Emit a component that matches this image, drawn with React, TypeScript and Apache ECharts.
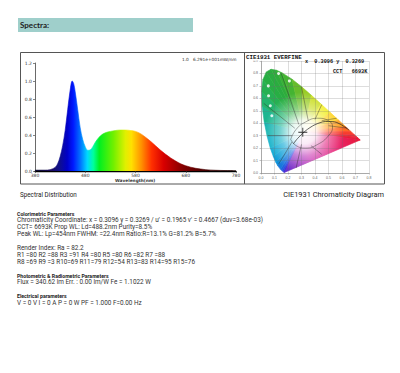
import React, { useEffect, useRef } from "react";
import * as echarts from "echarts";

// ---------- Spectrum data ----------
const wavelengths = [380, 390, 400, 410, 420, 425, 430, 435, 440, 445, 450, 454, 457, 460, 465, 470, 475, 480, 485, 490, 495, 500, 510, 520, 530, 540, 550, 560, 570, 580, 590, 600, 610, 620, 630, 640, 650, 660, 670, 680, 690, 700, 720, 740, 760, 780];
const intensity = [0.01, 0.01, 0.01, 0.015, 0.04, 0.08, 0.16, 0.28, 0.45, 0.68, 0.9, 1.0, 0.97, 0.88, 0.68, 0.48, 0.35, 0.27, 0.23, 0.235, 0.27, 0.32, 0.39, 0.425, 0.44, 0.45, 0.455, 0.455, 0.45, 0.44, 0.415, 0.375, 0.33, 0.28, 0.23, 0.185, 0.145, 0.11, 0.08, 0.058, 0.042, 0.03, 0.015, 0.008, 0.005, 0.003];
const xTickMin = 380;
const xTickMax = 780;
const xTickStep = 100;
const yTickMax = 1.2;
const yTickStep = 0.2;

// ---------- CIE 1931 spectral locus ----------
const locusWl = [380, 420, 440, 450, 460, 470, 475, 480, 485, 490, 495, 500, 505, 510, 515, 520, 525, 530, 540, 550, 560, 570, 580, 590, 600, 610, 620, 630, 640, 660, 700];
const locusX = [0.1741, 0.1714, 0.1644, 0.1566, 0.144, 0.1241, 0.1096, 0.0913, 0.0687, 0.0454, 0.0235, 0.0082, 0.0039, 0.0139, 0.0389, 0.0743, 0.1142, 0.1547, 0.2296, 0.3016, 0.3731, 0.4441, 0.5125, 0.5752, 0.627, 0.6658, 0.6915, 0.7079, 0.719, 0.73, 0.7347];
const locusY = [0.005, 0.0051, 0.0109, 0.0177, 0.0297, 0.0578, 0.0868, 0.1327, 0.2007, 0.295, 0.4127, 0.5384, 0.6548, 0.7502, 0.812, 0.8338, 0.8262, 0.8059, 0.7543, 0.6923, 0.6245, 0.5547, 0.4866, 0.4242, 0.3725, 0.334, 0.3083, 0.292, 0.2809, 0.27, 0.2653];
const planckX = [0.6528, 0.5857, 0.5267, 0.477, 0.4369, 0.4053, 0.3805, 0.3451, 0.3221, 0.3064, 0.2952, 0.2807, 0.2637, 0.2399];
const planckY = [0.3444, 0.3931, 0.4133, 0.4137, 0.4041, 0.3907, 0.3768, 0.3516, 0.3318, 0.3166, 0.3048, 0.2884, 0.2683, 0.2342];
const whitePoint = [0.32, 0.33];
const measured = [0.3096, 0.3269];
const ovalX = [0.22, 0.26, 0.33, 0.42, 0.5, 0.53, 0.5, 0.42, 0.33, 0.26, 0.22];
const ovalY = [0.27, 0.22, 0.2, 0.23, 0.3, 0.37, 0.42, 0.44, 0.41, 0.35, 0.27];
const boundaries = [
  [0.28, 0.39, 0.15, 0.8],
  [0.35, 0.42, 0.3, 0.69],
  [0.4, 0.43, 0.45, 0.55],
  [0.45, 0.42, 0.56, 0.44],
  [0.5, 0.38, 0.64, 0.36],
  [0.3, 0.23, 0.26, 0.04],
  [0.37, 0.22, 0.45, 0.15],
  [0.23, 0.3, 0.05, 0.3],
  [0.23, 0.25, 0.13, 0.07],
  [0.25, 0.36, 0.02, 0.56],
];
const markerX = [0.054, 0.056, 0.069, 0.08, 0.13, 0.21];
const markerY = [0.7, 0.62, 0.54, 0.46, 0.8, 0.74];

// ---------- Texts ----------
const headerTitle = "Spectra:";
const spectrumNote = "1.0   6.291e+001mW/nm";
const spectrumAxisName = "Wavelength(nm)";
const cieTitle = "CIE1931 EVERFINE";
const cieXY = "x  0.3096 y  0.3269";
const cieCCT = "CCT   6693K";
const captionLeft = "Spectral Distribution";
const captionRight = "CIE1931 Chromaticity Diagram";
const paramLines: [string, boolean][] = [
  ["Colorimetric Parameters", true],
  ["Chromaticity Coordinate: x = 0.3096 y = 0.3269 / u' = 0.1965 v' = 0.4667 (duv=3.68e-03)", false],
  ["CCT= 6693K Prop WL: Ld=488.2nm Purity=8.5%", false],
  ["Peak WL: Lp=454nm FWHM: =22.4nm Ratio:R=13.1% G=81.2% B=5.7%", false],
  ["", false],
  ["Render Index: Ra = 82.2", false],
  ["R1 =80 R2 =88 R3 =91 R4 =80 R5 =80 R6 =82 R7 =88", false],
  ["R8 =69 R9 =3 R10=69 R11=79 R12=54 R13=83 R14=95 R15=76", false],
  ["", false],
  ["Photometric & Radiometric Parameters", true],
  ["Flux = 340.62 lm Err. : 0.00 lm/W Fe = 1.1022 W", false],
  ["", false],
  ["Electrical parameters", true],
  ["V = 0 V I = 0 A P = 0 W PF = 1.000 F=0.00 Hz", false],
];

// ---------- Styles ----------
const spectrumStops = [
  [0, "#101030"], [0.08, "#1a0a60"], [0.12, "#10108a"], [0.16, "#0000c8"], [0.19, "#0018ff"],
  [0.225, "#0070ff"], [0.26, "#00d8ff"], [0.29, "#00ffa0"], [0.32, "#00f020"], [0.39, "#70f000"],
  [0.45, "#e0f000"], [0.48, "#ffe000"], [0.53, "#ff9000"], [0.58, "#ff3000"], [0.64, "#d80000"],
  [0.74, "#800000"], [0.86, "#400000"], [1, "#200000"],
];
const locusColors = ["#4a28c8", "#3a30d8", "#2f44e0", "#2060e0", "#1878dc", "#108ed8", "#0a9ed8", "#08a8d4", "#10b0c8", "#16b4b0", "#1cb690", "#22b46c", "#26b052", "#28ae44", "#2aac40", "#2eac3c", "#38b036", "#44b432", "#66bc2c", "#98cc24", "#c8dc18", "#f0ec10", "#ffd010", "#ff9c18", "#ff6a24", "#f8402c", "#f02c34", "#ec2236", "#ea1c36", "#e81836"];

export default function App() {
  const ref = useRef<HTMLDivElement>(null);
  useEffect(() => {
    const el = ref.current;
    if (!el) return;
    const chart = echarts.init(el, null, { renderer: "svg" });

    const spectrumData = wavelengths.map((w, i) => [w, intensity[i]]);
    const fanData = locusX.slice(0, -1).map((x, i) => [x, locusY[i], locusX[i + 1], locusY[i + 1], i]);
    const last = locusX.length - 1;

    const paramGraphics: any[] = [];
    let y = 214;
    paramLines.forEach(([t, bold]) => {
      if (t) {
        paramGraphics.push({
          type: "text",
          left: 17,
          top: y - (bold ? 3 : 3.7),
          style: { text: t, fontSize: bold ? 5.2 : 6.4, fontWeight: bold ? "bold" : "normal", fill: bold ? "#222" : "#333", fontFamily: "Roboto" },
        });
      }
      y += 6.9;
    });

    const option: any = {
      animation: false,
      backgroundColor: "#ffffff",
      grid: [
        { left: 35, top: 63, width: 201, height: 108 },
        { left: 261, top: 61, width: 108, height: 112 },
      ],
      xAxis: [
        {
          type: "value", gridIndex: 0, min: xTickMin, max: xTickMax, interval: xTickStep,
          axisLine: { lineStyle: { color: "#000", width: 1.3 } },
          axisTick: { length: 2, lineStyle: { color: "#333", width: 0.6 } },
          axisLabel: { fontSize: 4.5, color: "#333", margin: 2, fontFamily: "DejaVu Sans" },
          splitLine: { show: false },
        },
        {
          type: "value", gridIndex: 1, min: 0, max: 0.8, interval: 0.1, z: 5,
          axisLine: { lineStyle: { color: "#888", width: 0.6 } },
          axisTick: { length: 1.5, lineStyle: { color: "#888", width: 0.5 } },
          axisLabel: { fontSize: 3.5, color: "#666", margin: 3, formatter: (v: number) => v.toFixed(1) },
          splitLine: { show: true, lineStyle: { color: "rgba(110,110,110,0.4)", width: 0.6 } },
        },
      ],
      yAxis: [
        {
          type: "value", gridIndex: 0, min: 0, max: yTickMax, interval: yTickStep,
          axisLine: { show: true, lineStyle: { color: "#444", width: 0.8 } },
          axisTick: { show: true, length: 2, lineStyle: { color: "#333", width: 0.6 } },
          axisLabel: { fontSize: 4.5, color: "#333", margin: 3, fontFamily: "DejaVu Sans", formatter: (v: number) => v.toFixed(1) },
          splitLine: { show: false },
        },
        {
          type: "value", gridIndex: 1, min: 0, max: 0.9, interval: 0.1, z: 5,
          axisLine: { show: true, lineStyle: { color: "#888", width: 0.6 } },
          axisTick: { show: true, length: 1.5, lineStyle: { color: "#888", width: 0.5 } },
          axisLabel: { fontSize: 3.5, color: "#666", margin: 3, formatter: (v: number) => v.toFixed(1) },
          splitLine: { show: true, lineStyle: { color: "rgba(110,110,110,0.4)", width: 0.6 } },
        },
      ],
      series: [
        {
          type: "line", xAxisIndex: 0, yAxisIndex: 0, data: spectrumData, smooth: 0.35, symbol: "none",
          lineStyle: { width: 0.6, color: new echarts.graphic.LinearGradient(0, 0, 1, 0, spectrumStops.map(([o, c]) => ({ offset: o as number, color: c as string }))) },
          areaStyle: { opacity: 1, color: new echarts.graphic.LinearGradient(0, 0, 1, 0, spectrumStops.map(([o, c]) => ({ offset: o as number, color: c as string }))) },
          z: 2,
        },
        {
          type: "custom", xAxisIndex: 1, yAxisIndex: 1, data: fanData, encode: { x: [0, 2], y: [1, 3] }, z: 1,
          renderItem: (_p: any, api: any) => {
            const p1 = api.coord([api.value(0), api.value(1)]);
            const p2 = api.coord([api.value(2), api.value(3)]);
            const w = api.coord(whitePoint);
            const c = locusColors[api.value(4)] || "#e81836";
            return { type: "polygon", shape: { points: [w, p1, p2] }, style: { fill: c, stroke: c, lineWidth: 0.6 } };
          },
        },
        {
          type: "custom", xAxisIndex: 1, yAxisIndex: 1, data: [[locusX[last], locusY[last], locusX[0], locusY[0]]], encode: { x: [0, 2], y: [1, 3] }, z: 1,
          renderItem: (_p: any, api: any) => {
            const r = api.coord([api.value(0), api.value(1)]);
            const b = api.coord([api.value(2), api.value(3)]);
            const w = api.coord(whitePoint);
            const g = new echarts.graphic.LinearGradient(r[0], r[1], b[0], b[1], [
              { offset: 0, color: "#e81836" }, { offset: 0.35, color: "#e8287a" }, { offset: 0.65, color: "#c838b8" }, { offset: 1, color: "#5a30d0" },
            ], true);
            return { type: "polygon", shape: { points: [w, r, b] }, style: { fill: g, stroke: g, lineWidth: 0.6 } };
          },
        },
        {
          type: "custom", xAxisIndex: 1, yAxisIndex: 1, data: [whitePoint], encode: { x: 0, y: 1 }, z: 2,
          renderItem: (_p: any, api: any) => {
            const w = api.coord(whitePoint);
            const pts = locusX.map((x, i) => api.coord([x, locusY[i]]));
            const g = new echarts.graphic.RadialGradient(w[0], w[1], 40, [
              { offset: 0, color: "rgba(255,255,255,1)" }, { offset: 0.3, color: "rgba(255,255,255,0.9)" },
              { offset: 0.6, color: "rgba(255,255,255,0.4)" }, { offset: 1, color: "rgba(255,255,255,0)" },
            ], true);
            return { type: "polygon", shape: { points: pts }, style: { fill: g } };
          },
        },
        {
          type: "custom", xAxisIndex: 1, yAxisIndex: 1, data: boundaries, encode: { x: [0, 2], y: [1, 3] }, z: 6,
          renderItem: (_p: any, api: any) => {
            const a = api.coord([api.value(0), api.value(1)]);
            const b = api.coord([api.value(2), api.value(3)]);
            return { type: "line", shape: { x1: a[0], y1: a[1], x2: b[0], y2: b[1] }, style: { stroke: "rgba(40,40,40,0.8)", lineWidth: 0.5 } };
          },
        },
        {
          type: "line", xAxisIndex: 1, yAxisIndex: 1, data: ovalX.map((x, i) => [x, ovalY[i]]), smooth: 0.5, symbol: "none", z: 6,
          lineStyle: { color: "rgba(40,40,40,0.8)", width: 0.5 },
        },
        {
          type: "line", xAxisIndex: 1, yAxisIndex: 1, data: planckX.map((x, i) => [x, planckY[i]]), smooth: 0.4, symbol: "none", z: 6,
          lineStyle: { color: "#222", width: 0.7 },
        },
        {
          type: "scatter", xAxisIndex: 1, yAxisIndex: 1, data: markerX.map((x, i) => [x, markerY[i]]), symbolSize: 3, z: 7,
          itemStyle: { color: "#ffffff", opacity: 0.85 },
        },
        {
          type: "scatter", xAxisIndex: 1, yAxisIndex: 1, data: [measured], z: 8,
          symbol: "path://M4.5,0h1v4.5h4.5v1h-4.5v4.5h-1v-4.5h-4.5v-1h4.5z", symbolSize: 9,
          itemStyle: { color: "#000" },
        },
      ],
      graphic: [
        { type: "rect", shape: { x: 18, y: 18, width: 175, height: 14 }, style: { fill: "#9fcfcb" } },
        { type: "text", left: 20, top: 20.5, style: { text: headerTitle, fontSize: 8, fontWeight: "bold", fill: "#222", fontFamily: "Lato" } },
        { type: "rect", shape: { x: 20.5, y: 52.5, width: 364, height: 131.5 }, style: { fill: "none", stroke: "#555", lineWidth: 1 }, z: 10 },
        { type: "line", shape: { x1: 244.5, y1: 52.5, x2: 244.5, y2: 184 }, style: { stroke: "#555", lineWidth: 1 }, z: 10 },
        { type: "text", left: 182, top: 57.5, style: { text: spectrumNote, fontSize: 4.3, fill: "#333", fontFamily: "DejaVu Sans" } },
        { type: "text", left: 115, top: 178.2, style: { text: spectrumAxisName, fontSize: 4.3, fontWeight: "bold", fill: "#333", fontFamily: "DejaVu Sans" } },
        { type: "rect", shape: { x: 246, y: 53.5, width: 60, height: 7 }, style: { fill: "#fff" }, z: 9 },
        { type: "text", left: 246, top: 54, style: { text: cieTitle, fontSize: 5.8, fontWeight: "bold", fill: "#111", fontFamily: "Liberation Mono" }, z: 11 },
        { type: "text", left: 305, top: 59, style: { text: cieXY, fontSize: 5.2, fontWeight: "bold", fill: "#111", fontFamily: "Liberation Mono" }, z: 11 },
        { type: "text", left: 333, top: 69, style: { text: cieCCT, fontSize: 5.2, fontWeight: "bold", fill: "#111", fontFamily: "Liberation Mono" }, z: 11 },
        { type: "text", left: 20, top: 191.5, style: { text: captionLeft, fontSize: 6.3, fill: "#222", fontFamily: "Roboto" } },
        { type: "text", right: 16, top: 190.5, style: { text: captionRight, fontSize: 7.4, fill: "#222", fontFamily: "Roboto" } },
        ...paramGraphics,
      ],
    };
    chart.setOption(option);
    return () => chart.dispose();
  }, []);
  return <div ref={ref} style={{ position: "absolute", left: 0, top: 0, width: 400, height: 373, background: "#fff" }} />;
}
